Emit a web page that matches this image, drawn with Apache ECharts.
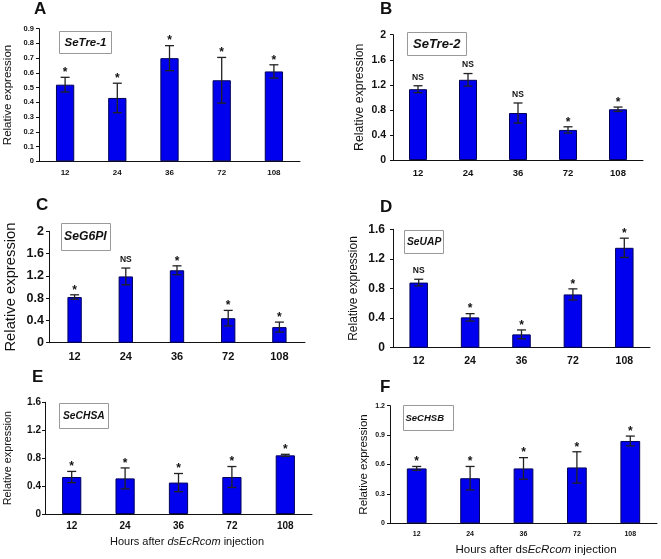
<!DOCTYPE html>
<html>
<head>
<meta charset="utf-8">
<script src="https://cdn.jsdelivr.net/npm/echarts@6/dist/echarts.min.js"></script>
<style>
  html, body { margin: 0; padding: 0; background: #fff; }
  #chart { width: 661px; height: 559px; }
</style>
</head>
<body>
<div id="chart"></div>
<script>
// hours after dsEcRcom injection
const hours = ['12', '24', '36', '72', '108'];

const tre1Mean = [0.52, 0.43, 0.70, 0.55, 0.61];
const tre1Err = [0.05, 0.10, 0.085, 0.155, 0.045];
const tre1Sig = ['*', '*', '*', '*', '*'];

const tre2Mean = [1.13, 1.28, 0.75, 0.48, 0.81];
const tre2Err = [0.055, 0.10, 0.16, 0.05, 0.035];
const tre2Sig = ['NS', 'NS', 'NS', '*', '*'];

const g6piMean = [0.82, 1.19, 1.30, 0.44, 0.28];
const g6piErr = [0.04, 0.15, 0.08, 0.14, 0.09];
const g6piSig = ['*', 'NS', '*', '*', '*'];

const uapMean = [0.88, 0.41, 0.18, 0.72, 1.35];
const uapErr = [0.045, 0.05, 0.06, 0.075, 0.13];
const uapSig = ['NS', '*', '*', '*', '*'];

const chsaMean = [0.53, 0.51, 0.45, 0.53, 0.84];
const chsaErr = [0.08, 0.15, 0.13, 0.15, 0.015];
const chsaSig = ['*', '*', '*', '*', '*'];

const chsbMean = [0.56, 0.46, 0.56, 0.57, 0.84];
const chsbErr = [0.02, 0.12, 0.11, 0.16, 0.05];
const chsbSig = ['*', '*', '*', '*', '*'];

const FONT = '"Liberation Sans", Arial, sans-serif';

// layout of each panel (pixels)
const panels = [
  { letter: 'A', gene: 'SeTre-1', mean: tre1Mean, err: tre1Err, sig: tre1Sig, max: 0.9, step: 0.1,
    grid: [39, 28.7, 261, 132.6], lx: 34, ly: 10, box: [59, 31, 52, 22, 5, 11.5],
    yFont: 7.5, xFont: 8, yMargin: 5, xMargin: 7, nameSize: 11.5, nameGap: 25, barW: '35%' },
  { letter: 'B', gene: 'SeTre-2', mean: tre2Mean, err: tre2Err, sig: tre2Sig, max: 2, step: 0.4,
    grid: [393, 34.7, 250, 125.3], lx: 380, ly: 10, box: [407, 32, 59, 23, 5.5, 13],
    yFont: 10.5, xFont: 9.5, yMargin: 7, xMargin: 8, nameSize: 12.3, nameGap: 27, barW: '36%' },
  { letter: 'C', gene: 'SeG6PI', mean: g6piMean, err: g6piErr, sig: g6piSig, max: 2, step: 0.4,
    grid: [49, 231.3, 256, 111.4], lx: 36, ly: 205.5, box: [61, 223, 49, 27, 2.5, 12.2],
    yFont: 12.5, xFont: 11, yMargin: 5, xMargin: 9, nameSize: 14.8, nameGap: 31, barW: '28%' },
  { letter: 'D', gene: 'SeUAP', mean: uapMean, err: uapErr, sig: uapSig, max: 1.6, step: 0.4,
    grid: [393, 229.3, 257, 118.4], lx: 380, ly: 208, box: [404, 230, 39, 23, 2.5, 10.3],
    yFont: 12, xFont: 10.5, yMargin: 8, xMargin: 8, nameSize: 12, nameGap: 33, barW: '36%' },
  { letter: 'E', gene: 'SeCHSA', mean: chsaMean, err: chsaErr, sig: chsaSig, max: 1.6, step: 0.4,
    grid: [45, 402.3, 267, 111.7], lx: 32, ly: 378, box: [59, 403, 49, 25, 3.5, 10.3],
    yFont: 10, xFont: 10, yMargin: 4, xMargin: 7, nameSize: 10.8, nameGap: 31, barW: '36%',
    xTitle: { pre: 'Hours after ', it: 'dsEcRcom', x: 187, y: 542, size: 11 } },
  { letter: 'F', gene: 'SeCHSB', mean: chsbMean, err: chsbErr, sig: chsbSig, max: 1.2, step: 0.3,
    grid: [390, 405.7, 267, 117.6], lx: 380, ly: 388, box: [403, 405, 50, 25, 2, 9.5],
    yFont: 7, xFont: 7, yMargin: 5, xMargin: 7, nameSize: 11.5, nameGap: 20, barW: '37%',
    xTitle: { pre: 'Hours after ds', it: 'EcRcom', x: 536, y: 550, size: 11.5 } }
];

const chart = echarts.init(document.getElementById('chart'));

const grids = [], xAxes = [], yAxes = [], series = [], graphics = [];

panels.forEach((p, i) => {
  grids.push({ left: p.grid[0], top: p.grid[1], width: p.grid[2], height: p.grid[3] });

  xAxes.push({
    type: 'category', gridIndex: i, data: hours,
    axisLine: { lineStyle: { color: '#111', width: 1 } },
    axisTick: { length: 3, lineStyle: { color: '#111' } },
    axisLabel: { fontFamily: FONT, fontWeight: 'bold', fontSize: p.xFont, color: '#111', margin: p.xMargin }
  });

  yAxes.push({
    type: 'value', gridIndex: i, min: 0, max: p.max, interval: p.step,
    splitLine: { show: false },
    axisLine: { show: true, lineStyle: { color: '#111', width: 1 } },
    axisTick: { show: true, length: 3, lineStyle: { color: '#111' } },
    axisLabel: { fontFamily: FONT, fontWeight: 'bold', fontSize: p.yFont, color: '#111', margin: p.yMargin },
    name: 'Relative expression', nameLocation: 'middle', nameRotate: 90, nameGap: p.nameGap,
    nameTextStyle: { fontFamily: FONT, fontSize: p.nameSize, color: '#111' }
  });

  series.push({
    type: 'bar', xAxisIndex: i, yAxisIndex: i, data: p.mean, barWidth: p.barW,
    itemStyle: { color: '#0000ee', borderColor: '#00005a', borderWidth: 1 },
    silent: true
  });

  series.push({
    type: 'custom', xAxisIndex: i, yAxisIndex: i, z: 10, silent: true,
    data: p.mean.map((m, j) => [j, m, p.err[j]]),
    renderItem: (params, api) => {
      const x = api.value(0), m = api.value(1), e = api.value(2);
      const top = api.coord([x, m + e]);
      const bot = api.coord([x, m - e]);
      const hw = 4.5;
      const st = { stroke: '#222', lineWidth: 1.3 };
      const s = p.sig[params.dataIndex];
      return {
        type: 'group',
        children: [
          { type: 'line', shape: { x1: top[0], y1: top[1], x2: bot[0], y2: bot[1] }, style: st },
          { type: 'line', shape: { x1: top[0] - hw, y1: top[1], x2: top[0] + hw, y2: top[1] }, style: st },
          { type: 'line', shape: { x1: bot[0] - hw, y1: bot[1], x2: bot[0] + hw, y2: bot[1] }, style: st },
          {
            type: 'text', x: top[0], y: top[1] - (s === 'NS' ? 8.5 : 4.5),
            style: {
              text: s, align: 'center', verticalAlign: 'middle', fill: '#111',
              font: 'bold ' + (s === 'NS' ? 8.5 : 12) + 'px ' + FONT
            }
          }
        ]
      };
    }
  });

  // panel letter
  graphics.push({
    type: 'text', left: p.lx, top: p.ly - 9,
    style: { text: p.letter, font: 'bold 17px ' + FONT, fill: '#111' }
  });

  // gene name box
  const b = p.box;
  graphics.push({
    type: 'rect', shape: { x: b[0] + 0.5, y: b[1] + 0.5, width: b[2], height: b[3] },
    style: { fill: '#fff', stroke: '#999', lineWidth: 1 }, z: 20
  });
  graphics.push({
    type: 'text', x: b[0] + b[4] + 0.5, y: b[1] + b[3] / 2 + 0.5, z: 21,
    style: {
      text: p.gene, verticalAlign: 'middle', align: 'left', fill: '#111',
      font: 'italic bold ' + b[5] + 'px ' + FONT
    }
  });

  // x axis title, part of it italic
  if (p.xTitle) {
    const t = p.xTitle;
    graphics.push({
      type: 'text', x: t.x, y: t.y,
      style: {
        text: '{n|' + t.pre + '}{i|' + t.it + '}{n| injection}',
        align: 'center', verticalAlign: 'middle',
        rich: {
          n: { fontFamily: FONT, fontSize: t.size, fill: '#111' },
          i: { fontFamily: FONT, fontSize: t.size, fontStyle: 'italic', fill: '#111' }
        }
      }
    });
  }
});

const option = {
  animation: false,
  grid: grids,
  xAxis: xAxes,
  yAxis: yAxes,
  series: series,
  graphic: graphics
};

option && chart.setOption(option);
</script>
</body>
</html>
